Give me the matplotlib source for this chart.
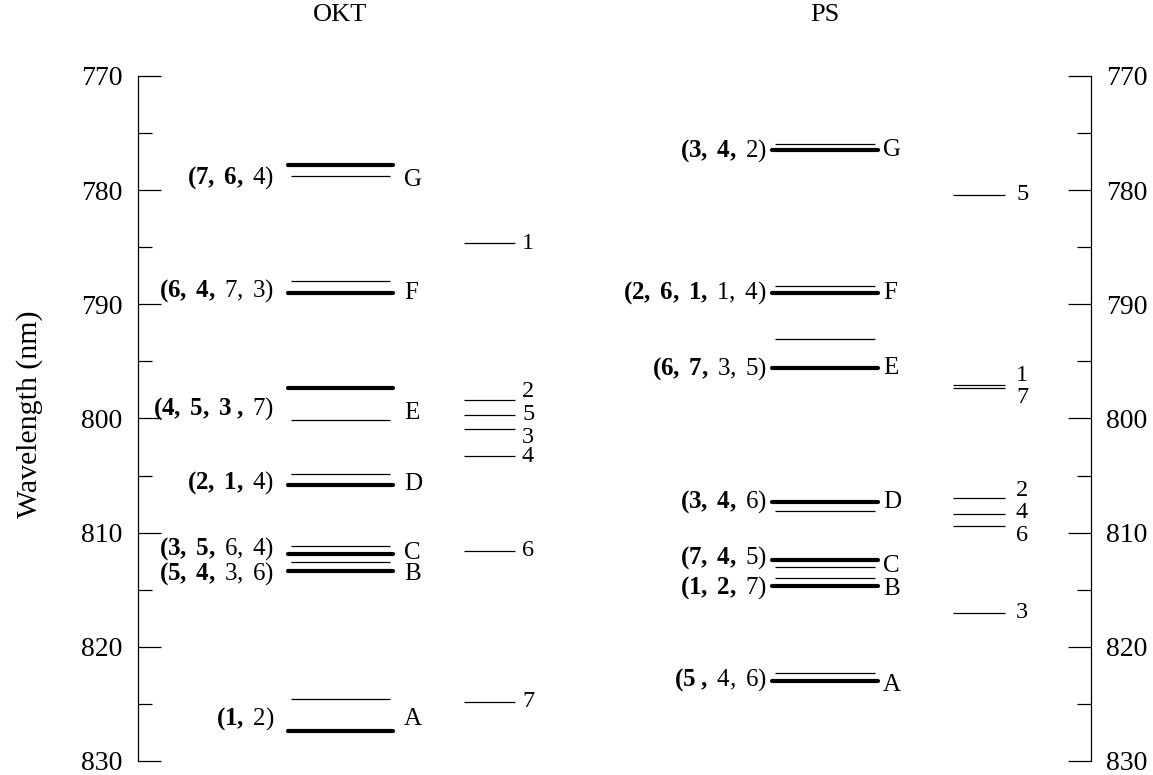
import matplotlib
matplotlib.use('Agg')
import os
import matplotlib.pyplot as plt
from matplotlib import font_manager as fm
from matplotlib.ticker import MultipleLocator

# ---------- font: Times-like serif ----------
serif = 'DejaVu Serif'
_files = fm.findSystemFonts()
for stem in ['liberationserif', 'texgyretermes']:
    found = [f for f in _files if os.path.basename(f).lower().replace('-', '').startswith(stem)]
    if found:
        for f in found:
            try:
                fm.fontManager.addfont(f)
            except Exception:
                pass
        reg = [f for f in found if 'regular' in f.lower()] or found
        serif = fm.FontProperties(fname=reg[0]).get_name()
        break

plt.rcParams['font.family'] = [serif, 'DejaVu Serif']
plt.rcParams['mathtext.fontset'] = 'custom'
plt.rcParams['mathtext.rm'] = serif
plt.rcParams['mathtext.bf'] = serif + ':bold'
plt.rcParams['mathtext.it'] = serif + ':italic'

# ---------------- data ----------------
letters = ['G', 'F', 'E', 'D', 'C', 'B', 'A']

okt_thick = [777.8, 789.0, 797.3, 805.8, 811.9, 813.4, 827.4]
okt_thin = [778.8, 788.0, 800.1, 804.85, 811.2, 812.6, 824.6]
okt_bold = ['(7, 6,', '(6, 4,', '(4, 5, 3 ,', '(2, 1,', '(3, 5,', '(5, 4,', '(1,']
okt_reg = ['4)', '7, 3)', '7)', '4)', '6, 4)', '3, 6)', '2)']
okt_singles = ['1', '2', '5', '3', '4', '6', '7']
okt_single_wl = [784.65, 798.4, 799.7, 800.9, 803.3, 811.6, 824.8]

ps_thick = [776.5, 789.0, 795.6, 807.3, 812.4, 814.7, 823.0]
ps_thin = [776.0, 788.4, 793.0, 808.1, 813.0, 814.0, 822.3]
ps_bold = ['(3, 4,', '(2, 6, 1,', '(6, 7,', '(3, 4,', '(7, 4,', '(1, 2,', '(5 ,']
ps_reg = ['2)', '1, 4)', '3, 5)', '6)', '5)', '7)', '4, 6)']
ps_singles = ['5', '1', '7', '2', '4', '6', '3']
ps_single_wl = [780.4, 797.1, 797.3, 807.0, 808.4, 809.4, 817.0]

titles = ['OKT', 'PS']
ylabel = 'Wavelength (nm)'
y_range = (770, 830)

# ---------------- layout ----------------
W, H = 1153, 775
fig = plt.figure(figsize=(W / 100, H / 100), dpi=100)
x0, x1, yt, yb = 138, 1091, 76, 761
ax = fig.add_axes([x0 / W, 1 - yb / H, (x1 - x0) / W, (yb - yt) / H])
ax.set_xlim(x0, x1)
ax.set_ylim(y_range[1], y_range[0])

for s in ['top', 'bottom']:
    ax.spines[s].set_visible(False)
for s in ['left', 'right']:
    ax.spines[s].set_linewidth(0.9)
ax.xaxis.set_visible(False)
ax.yaxis.set_major_locator(MultipleLocator(10))
ax.yaxis.set_minor_locator(MultipleLocator(5))
ax.tick_params(axis='y', which='both', direction='in', left=True, right=True,
               labelleft=True, labelright=True, width=0.9, pad=11, labelsize=20)
ax.tick_params(axis='y', which='major', length=16.5)
ax.tick_params(axis='y', which='minor', length=10)


def mt(bold, reg):
    b = bold.replace(' ', r'\ ')
    r = reg.replace(' ', r'\ ')
    return r'$\mathbf{' + b + r'}\ \mathrm{' + r + '}$'


def group_positions(vals, gap=1.2, spacing=2.0):
    # spread labels of close-by lines apart, centred on group mean
    order = sorted(range(len(vals)), key=lambda i: vals[i])
    groups, cur = [], [order[0]]
    for i in order[1:]:
        if vals[i] - vals[cur[-1]] < gap * 1.6:
            cur.append(i)
        else:
            groups.append(cur)
            cur = [i]
    groups.append(cur)
    pos = [0] * len(vals)
    for g in groups:
        m = sum(vals[i] for i in g) / len(g)
        n = len(g)
        for k, i in enumerate(g):
            pos[i] = m + (k - (n - 1) / 2) * spacing
    return pos


sites = [
    dict(thick=okt_thick, thin=okt_thin, bold=okt_bold, reg=okt_reg,
         singles=okt_singles, swl=okt_single_wl,
         lx=(288, 393), tagx=274, letx=404, sx=(464, 515), snx=522, tx=340,
         lab_off=[0.6, 0.3, 0.4, 0.3, -0.2, 0.6, 0.3], let_off=[0.8, 0.5, 0.8, 0.4, 0.2, 0.6, 0.3]),
    dict(thick=ps_thick, thin=ps_thin, bold=ps_bold, reg=ps_reg,
         singles=ps_singles, swl=ps_single_wl,
         lx=(772, 878), tagx=767, letx=883, sx=(953, 1005), snx=1016, tx=825,
         lab_off=[0.0, 0.0, 0.0, 0.0, -0.2, 0.1, -0.1], let_off=[0.0, 0.0, 0.0, 0.0, 0.5, 0.2, 0.3]),
]

for site, title in zip(sites, titles):
    thick, thin = site['thick'], site['thin']
    ax.hlines(thick, site['lx'][0], site['lx'][1], colors='black', linewidth=3.0,
              capstyle='round')
    ax.hlines(thin, site['lx'][0] + 3, site['lx'][1] - 3, colors='black', linewidth=0.9)
    is_ps = title == 'PS'
    for i, L in enumerate(letters):
        if is_ps:
            base = thick[i]
        else:
            base = (thick[i] + thin[i]) / 2
        ax.text(site['tagx'], base + site['lab_off'][i], mt(site['bold'][i], site['reg'][i]),
                ha='right', va='center', fontsize=18)
        ax.text(site['letx'], base + site['let_off'][i], L, ha='left', va='center', fontsize=18)
    ax.hlines(site['swl'], site['sx'][0], site['sx'][1], colors='black', linewidth=0.9)
    lpos = group_positions(site['swl'])
    for lab, p in zip(site['singles'], lpos):
        ax.text(site['snx'], p, lab, ha='left', va='center', fontsize=17.5)
    fig.text(site['tx'] / W, 1 - 15 / H, title, ha='center', va='center', fontsize=19)

fig.text(30 / W, 1 - 414 / H, ylabel, rotation=90, ha='center', va='center', fontsize=21.5)

fig.savefig('out.png', dpi=100)
